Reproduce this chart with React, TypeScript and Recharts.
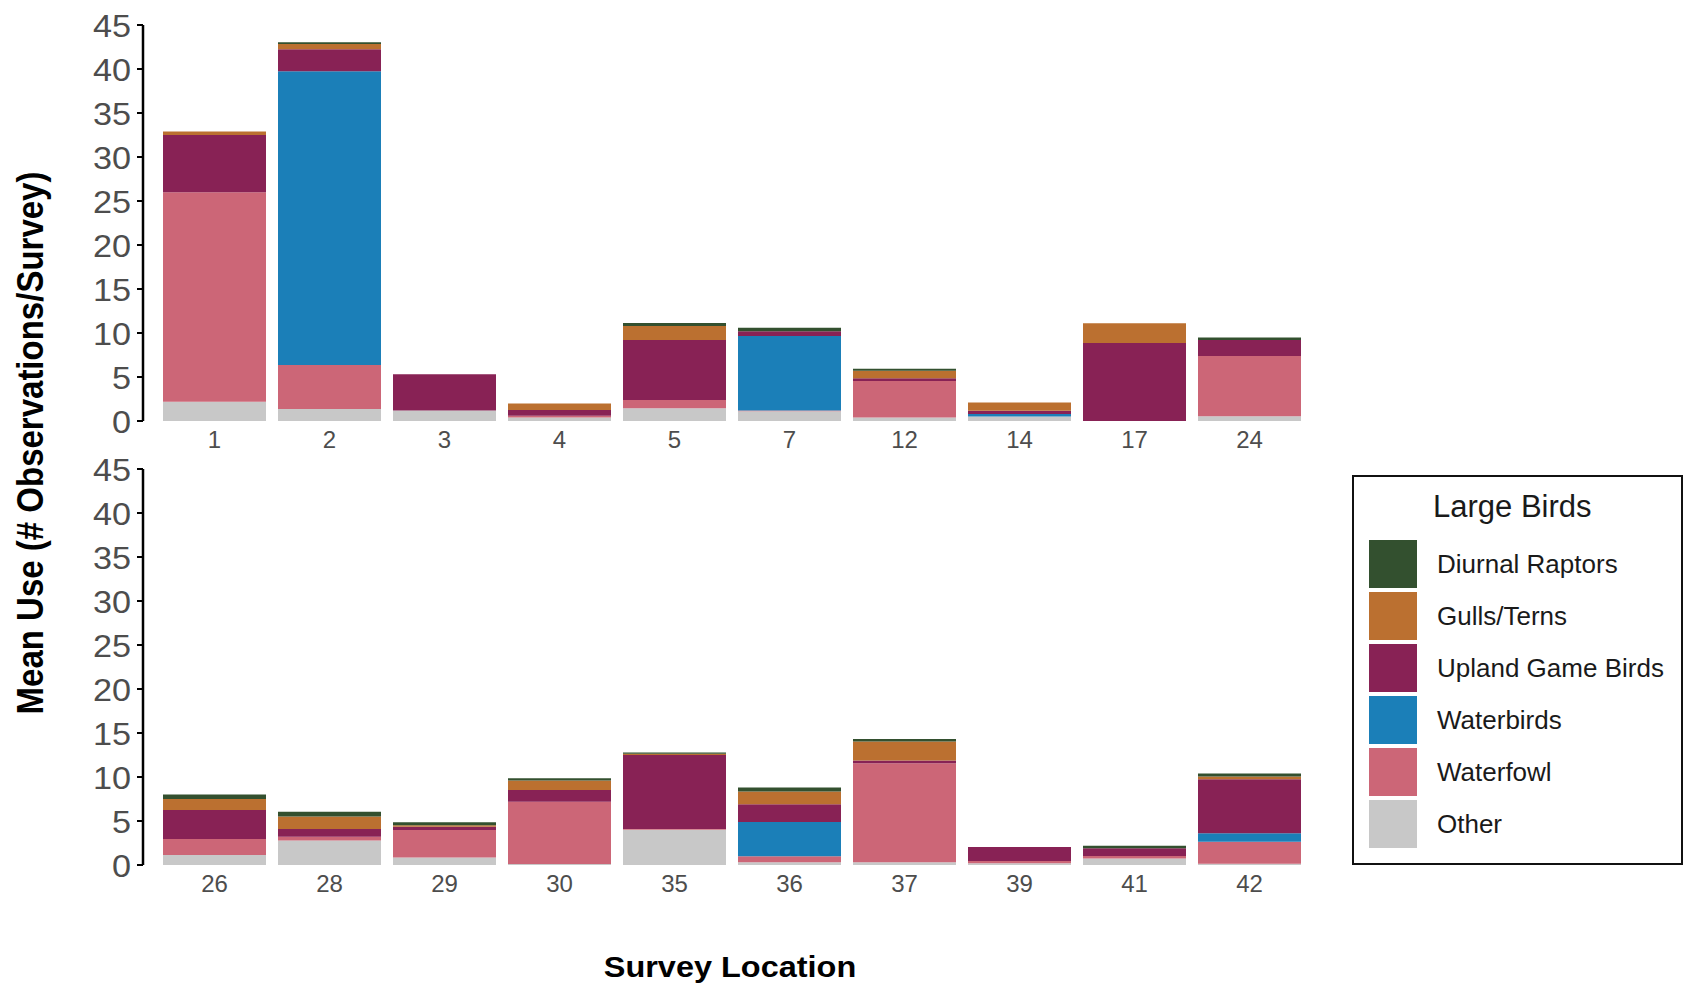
import React from 'react';
import { BarChart, Bar, XAxis, YAxis, Legend, Label } from 'recharts';

// survey locations, one list per panel
const topSites = ['1', '2', '3', '4', '5', '7', '12', '14', '17', '24'];
const bottomSites = ['26', '28', '29', '30', '35', '36', '37', '39', '41', '42'];

// mean use per group (bottom of stack first)
const topOther = [2.2, 1.35, 1.2, 0.4, 1.45, 1.1, 0.4, 0.5, 0, 0.55];
const topWaterfowl = [23.8, 5.0, 0, 0.2, 0.95, 0.1, 4.15, 0, 0, 6.85];
const topWaterbirds = [0, 33.4, 0, 0, 0, 8.45, 0, 0.3, 0, 0];
const topUpland = [6.5, 2.5, 4.1, 0.65, 6.8, 0.55, 0.3, 0.37, 8.85, 1.8];
const topGulls = [0.4, 0.6, 0, 0.75, 1.6, 0, 0.85, 0.93, 2.25, 0];
const topRaptors = [0, 0.2, 0, 0, 0.35, 0.4, 0.25, 0, 0, 0.3];

const bottomOther = [1.15, 2.77, 0.85, 0.1, 4.0, 0.3, 0.3, 0.2, 0.75, 0.15];
const bottomWaterfowl = [1.8, 0.45, 3.13, 7.1, 0.1, 0.7, 11.27, 0.25, 0.27, 2.5];
const bottomWaterbirds = [0, 0, 0, 0, 0, 3.9, 0, 0, 0, 0.95];
const bottomUpland = [3.3, 0.88, 0.38, 1.33, 8.4, 2.0, 0.3, 1.6, 0.88, 6.15];
const bottomGulls = [1.25, 1.4, 0.15, 1.06, 0.15, 1.44, 2.16, 0, 0, 0.3];
const bottomRaptors = [0.5, 0.56, 0.35, 0.26, 0.13, 0.46, 0.3, 0, 0.3, 0.35];

const yTicks = [0, 5, 10, 15, 20, 25, 30, 35, 40, 45];

// stacking order, bottom to top
const groups = [
  { key: 'other', name: 'Other', color: '#c8c8c8' },
  { key: 'waterfowl', name: 'Waterfowl', color: '#cc6677' },
  { key: 'waterbirds', name: 'Waterbirds', color: '#1b7fb8' },
  { key: 'upland', name: 'Upland Game Birds', color: '#882255' },
  { key: 'gulls', name: 'Gulls/Terns', color: '#bb7030' },
  { key: 'raptors', name: 'Diurnal Raptors', color: '#33502f' },
];

const buildRows = (
  sites: string[],
  other: number[],
  waterfowl: number[],
  waterbirds: number[],
  upland: number[],
  gulls: number[],
  raptors: number[]
) =>
  sites.map((site, i) => ({
    site,
    other: other[i],
    waterfowl: waterfowl[i],
    waterbirds: waterbirds[i],
    upland: upland[i],
    gulls: gulls[i],
    raptors: raptors[i],
  }));

const topData = buildRows(topSites, topOther, topWaterfowl, topWaterbirds, topUpland, topGulls, topRaptors);
const bottomData = buildRows(
  bottomSites,
  bottomOther,
  bottomWaterfowl,
  bottomWaterbirds,
  bottomUpland,
  bottomGulls,
  bottomRaptors
);

// the reference picture is a little wider than tall, so text gets a small x stretch
const YTick = (props: any) => {
  const { x, y, payload } = props;
  return (
    <text
      x={x}
      y={y}
      dy="0.36em"
      textAnchor="end"
      fill="#4d4d4d"
      fontSize={32}
      transform={`translate(${x} 0) scale(1.07 1) translate(${-x} 0)`}
    >
      {payload.value}
    </text>
  );
};

const XTitle = (props: any) => {
  const { viewBox } = props;
  const cx = viewBox.x + viewBox.width / 2;
  return (
    <text
      x={cx}
      y={viewBox.y + viewBox.height - 7}
      textAnchor="middle"
      fontSize={29}
      fontWeight="bold"
      fill="#000"
      transform={`translate(${cx} 0) scale(1.12 1) translate(${-cx} 0)`}
    >
      Survey Location
    </text>
  );
};

const LegendBox = () => (
  <div
    style={{
      width: 331,
      height: 390,
      boxSizing: 'border-box',
      border: '2px solid #111',
      background: '#fff',
      position: 'relative',
      color: '#1a1a1a',
    }}
  >
    <div style={{ position: 'absolute', left: 79, top: 14, fontSize: 31, lineHeight: '31px', whiteSpace: 'nowrap' }}>
      Large Birds
    </div>
    {[...groups].reverse().map((g, i) => (
      <div
        key={g.key}
        style={{ position: 'absolute', left: 15, top: 63 + i * 52, height: 48, display: 'flex', alignItems: 'center' }}
      >
        <div style={{ width: 48, height: 48, background: g.color }} />
        <div style={{ marginLeft: 20, fontSize: 26, whiteSpace: 'nowrap' }}>{g.name}</div>
      </div>
    ))}
  </div>
);

interface PanelProps {
  data: any[];
  height: number;
  top: number;
  axisHeight: number;
  last?: boolean;
}

const Panel: React.FC<PanelProps> = ({ data, height, top, axisHeight, last }) => (
  <BarChart
    width={1684}
    height={height}
    data={data}
    margin={{ top, right: 367, bottom: 0, left: 0 }}
    barSize={103}
  >
    <XAxis
      dataKey="site"
      interval={0}
      height={axisHeight}
      axisLine={false}
      tickLine={false}
      tickSize={0}
      tickMargin={10}
      padding={{ left: 14, right: 10 }}
      tick={{ fill: '#4d4d4d', fontSize: 24 }}
    >
      {last && <Label content={<XTitle />} />}
    </XAxis>
    <YAxis
      type="number"
      domain={[0, 45]}
      ticks={yTicks}
      interval={0}
      width={143}
      stroke="#000"
      axisLine={{ stroke: '#000', strokeWidth: 2.5 }}
      tickLine={{ stroke: '#000', strokeWidth: 2 }}
      tickSize={6}
      tickMargin={6}
      tick={<YTick />}
    />
    {groups.map((g) => (
      <Bar key={g.key} dataKey={g.key} name={g.name} stackId="a" fill={g.color} isAnimationActive={false} />
    ))}
    {last && (
      <Legend
        layout="vertical"
        align="center"
        verticalAlign="middle"
        content={() => <LegendBox />}
        wrapperStyle={{ position: 'absolute', left: 1352, top: 35, width: 331, height: 390 }}
      />
    )}
  </BarChart>
);

const App: React.FC = () => (
  <div
    style={{
      position: 'absolute',
      left: 0,
      top: 0,
      width: 1684,
      height: 984,
      background: '#fff',
      overflow: 'hidden',
      fontFamily: '"Liberation Sans", Arial, sans-serif',
    }}
  >
    <div style={{ position: 'absolute', left: 0, top: 0 }}>
      <Panel data={topData} height={460} top={25} axisHeight={39} />
    </div>
    <div style={{ position: 'absolute', left: 0, top: 440 }}>
      <Panel data={bottomData} height={544} top={29} axisHeight={119} last />
    </div>
    <div
      style={{
        position: 'absolute',
        left: 31,
        top: 443,
        transform: 'translate(-50%, -50%) rotate(-90deg) scaleY(1.1)',
        whiteSpace: 'nowrap',
        fontWeight: 'bold',
        fontSize: 33,
        color: '#000',
      }}
    >
      Mean Use (# Observations/Survey)
    </div>
  </div>
);

export default App;
